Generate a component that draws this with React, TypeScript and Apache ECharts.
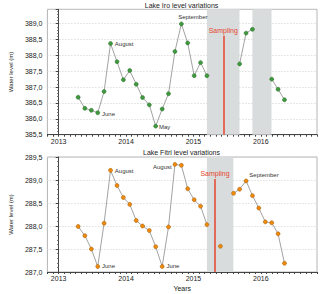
import React, { useEffect, useRef } from 'react';
import * as echarts from 'echarts';

// x values are months counted from January 2013 (0 = Jan 2013)
const monthOrigin = 2013;
const axisMonths = [-2, 46];

const iroMonths = [3.47, 4.67, 5.82, 6.96, 8.09, 9.24, 10.39, 11.52, 12.66, 13.81, 14.94, 16.14, 17.28, 18.43, 19.56, 20.7, 21.85, 22.98, 24.13, 25.27, 26.4, 32.22, 33.37, 34.51, 37.94, 39.07, 40.21];
const iroLevels = [386.68, 386.33, 386.27, 386.19, 386.86, 388.37, 387.8, 387.23, 387.52, 387.09, 386.67, 386.44, 385.77, 386.31, 386.79, 388.12, 388.99, 388.39, 387.36, 387.77, 387.36, 387.73, 388.7, 388.82, 387.25, 386.93, 386.6];
const iroBreaks = [21, 24];
const iroNoteIndex = [3, 5, 12, 16];
const iroNoteText = ['June', 'August', 'May', 'September'];
const iroDryBands = [[26.4, 32.2], [34.5, 37.9]];
const iroSampling = [29.31, 388.62];
const iroRange = [385.5, 389.45];

const fitriMonths = [3.47, 4.67, 5.82, 6.96, 8.09, 9.24, 10.39, 11.52, 12.66, 13.81, 14.94, 16.14, 17.28, 18.43, 19.56, 20.7, 21.85, 22.98, 24.13, 25.27, 26.4, 28.8, 31.14, 32.22, 33.37, 34.51, 35.64, 36.79, 37.94, 39.07, 40.21];
const fitriLevels = [287.99, 287.79, 287.5, 287.12, 288.06, 289.21, 288.88, 288.62, 288.47, 288.12, 288.0, 287.9, 287.55, 287.12, 287.98, 289.34, 289.32, 288.81, 288.57, 288.43, 288.03, 287.56, 288.71, 288.8, 288.98, 288.66, 288.39, 288.09, 288.07, 287.83, 287.19];
const fitriBreaks = [21, 22];
const fitriNoteIndex = [3, 5, 13, 15, 24];
const fitriNoteText = ['June', 'August', 'June', 'August', 'September'];
const fitriDryBands = [[26.4, 31.1]];
const fitriSampling = [27.84, 289.02];
const fitriRange = [287.0, 289.5];

const titles = ['Lake Iro level variations', 'Lake Fitri level variations'];

const FONT = '"Liberation Sans", Arial, sans-serif';

function buildSeries(
  months: number[], levels: number[], breaks: number[], noteIdx: number[], noteText: string[],
  placements: any[], color: string, border: string, gi: number, bands: number[][], sampling: number[], yMin: number
) {
  const items = months.map((m, i) => {
    const item: any = { value: [m, levels[i]] };
    const k = noteIdx.indexOf(i);
    if (k >= 0) {
      item.label = { show: true, formatter: noteText[k], fontSize: 6, color: '#333', fontFamily: FONT, ...placements[k] };
    }
    return item;
  });
  const starts = [0, ...breaks, months.length];
  const series: any[] = [];
  for (let s = 0; s < starts.length - 1; s++) {
    series.push({
      type: 'line',
      xAxisIndex: gi,
      yAxisIndex: gi,
      data: items.slice(starts[s], starts[s + 1]),
      symbol: 'circle',
      symbolSize: 4,
      showSymbol: true,
      lineStyle: { color: '#a3a3a3', width: 1 },
      itemStyle: { color, borderColor: border, borderWidth: 0.5 },
      label: { show: false },
      emphasis: { disabled: true },
      z: 3,
    });
  }
  series[0].markArea = {
    silent: true,
    itemStyle: { color: '#d9dcdc' },
    data: bands.map((b) => [{ xAxis: b[0] }, { xAxis: b[1] }]),
  };
  series[0].markLine = {
    silent: true,
    symbol: ['none', 'none'],
    lineStyle: { color: '#e5452f', width: 1.5, type: 'solid' },
    label: { show: true, position: 'end', formatter: 'Sampling', color: '#e5452f', fontSize: 7, fontFamily: FONT, distance: 2 },
    data: [[{ coord: [sampling[0], yMin] }, { coord: [sampling[0], sampling[1]] }]],
  };
  return series;
}

export default function App() {
  const ref = useRef<HTMLDivElement>(null);
  useEffect(() => {
    if (!ref.current) return;
    const chart = echarts.init(ref.current, null, { renderer: 'svg' });

    const iroPlace = [
      { position: 'right', distance: 2, offset: [0, 1.5] },
      { position: 'right', distance: 2 },
      { position: 'right', distance: 1, offset: [0, 1] },
      { position: 'top', distance: 1.5, offset: [11.5, 0] },
    ];
    const fitriPlace = [
      { position: 'right', distance: 2 },
      { position: 'right', distance: 2, offset: [0, 0.5] },
      { position: 'right', distance: 2 },
      { position: 'left', distance: 1, offset: [0, 3] },
      { position: 'right', distance: 1, offset: [0, -6] },
    ];

    const grids = [
      { left: 37.3, top: 9.3, width: 280.5, height: 125.4 },
      { left: 37.3, top: 157, width: 280.5, height: 115 },
    ];

    const xAxisBase = (gi: number) => ({
      type: 'value',
      gridIndex: gi,
      min: axisMonths[0],
      max: axisMonths[1],
      interval: 1,
      axisLine: { show: true, lineStyle: { color: '#444', width: 1 } },
      axisTick: { show: true, length: 2, lineStyle: { color: '#444' } },
      axisLabel: {
        fontSize: 7, color: '#222', fontFamily: FONT, margin: 3,
        formatter: (v: number) => {
          const r = Math.round(v);
          return Math.abs(v - r) < 1e-6 && r % 12 === 0 ? String(monthOrigin + r / 12) : '';
        },
      },
      splitLine: { show: false },
    });

    const yAxisBase = (gi: number, range: number[]) => ({
      type: 'value',
      gridIndex: gi,
      min: range[0],
      max: range[1],
      interval: 0.5,
      name: 'Water level (m)',
      nameLocation: 'middle',
      nameGap: 27,
      nameTextStyle: { fontSize: 6, color: '#222', fontFamily: FONT },
      axisLine: { show: true, lineStyle: { color: '#444', width: 1 } },
      axisTick: { show: true, length: 3, lineStyle: { color: '#444' } },
      minorTick: { show: true, splitNumber: 5, length: 1.5, lineStyle: { color: '#666' } },
      axisLabel: {
        fontSize: 7, color: '#222', fontFamily: FONT, margin: 5,
        formatter: (v: number) => {
          const r = Math.round(v * 2) / 2;
          if (Math.abs(v - r) > 1e-6) return '';
          return r.toFixed(1).replace('.', ',');
        },
      },
      splitLine: { show: true, lineStyle: { color: '#cfcfcf', type: [1, 2], width: 1 } },
    });

    const xBottom: any = xAxisBase(1);
    xBottom.name = 'Years';
    xBottom.nameLocation = 'middle';
    xBottom.nameGap = 13;
    xBottom.nameTextStyle = { fontSize: 7, color: '#222', fontFamily: FONT };

    chart.setOption({
      animation: false,
      backgroundColor: '#ffffff',
      textStyle: { fontFamily: FONT },
      grid: grids.map((g) => ({ ...g, show: true, borderColor: '#b5b5b5', borderWidth: 1, backgroundColor: 'transparent' })),
      xAxis: [xAxisBase(0), xBottom],
      yAxis: [yAxisBase(0, iroRange), yAxisBase(1, fitriRange)],
      graphic: [
        { type: 'text', x: 181.5, y: 5, style: { text: titles[0], align: 'center', verticalAlign: 'middle', fontSize: 7, fill: '#222', fontFamily: FONT } },
        { type: 'text', x: 181.5, y: 152, style: { text: titles[1], align: 'center', verticalAlign: 'middle', fontSize: 7, fill: '#222', fontFamily: FONT } },
      ],
      series: [
        ...buildSeries(iroMonths, iroLevels, iroBreaks, iroNoteIndex, iroNoteText, iroPlace, '#3f9a3f', '#2b6b2b', 0, iroDryBands, iroSampling, iroRange[0]),
        ...buildSeries(fitriMonths, fitriLevels, fitriBreaks, fitriNoteIndex, fitriNoteText, fitriPlace, '#ef8a0a', '#9a5606', 1, fitriDryBands, fitriSampling, fitriRange[0]),
      ],
    });
    return () => chart.dispose();
  }, []);
  return <div ref={ref} style={{ position: 'fixed', left: 0, top: 0, width: 320, height: 294 }} />;
}
